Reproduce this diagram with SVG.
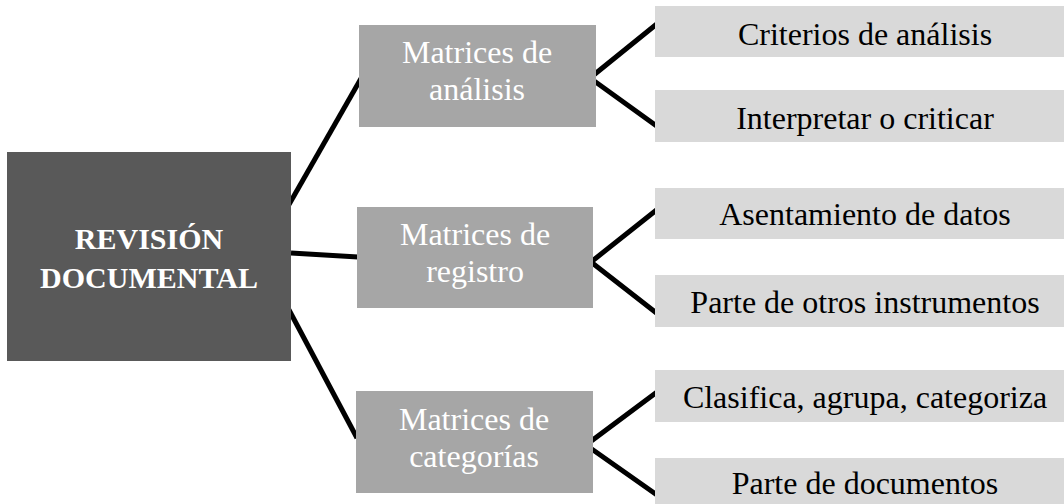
<svg xmlns="http://www.w3.org/2000/svg" width="1064" height="504" viewBox="0 0 1064 504">
<style>
.main{fill:#595959}
.mid{fill:#a6a6a6}
.leaf{fill:#d9d9d9}
.t{font-family:"Liberation Serif","Times New Roman",serif;font-size:32px;text-anchor:middle}
.tw{fill:#ffffff}
.tb{fill:#000000}
.tm{font-family:"Liberation Serif","Times New Roman",serif;font-size:30px;font-weight:bold;fill:#ffffff;text-anchor:middle}
.c{stroke:#000;stroke-width:5;fill:none;stroke-linecap:butt;stroke-linejoin:miter}
</style>
<rect width="1064" height="504" fill="#ffffff"/>
<g id="connectors">
<line class="c" x1="287" y1="208" x2="363" y2="75"/>
<line class="c" x1="291" y1="253" x2="358" y2="257"/>
<line class="c" x1="288" y1="308" x2="357" y2="438"/>
<polyline class="c" points="658,23 590,78 658,127"/>
<polyline class="c" points="659,208 591,262 659,315"/>
<polyline class="c" points="657,392 586,445 657,495"/>
</g>
<g id="n-revision">
<rect class="main" x="7" y="152" width="284" height="209"/>
<text class="tm" x="149" y="249">REVISIÓN</text>
<text class="tm" x="149" y="288">DOCUMENTAL</text>
</g>
<g id="n-analisis">
<rect class="mid" x="359" y="25" width="237" height="102"/>
<text class="t tw" x="477" y="63">Matrices de</text>
<text class="t tw" x="477" y="100">análisis</text>
</g>
<g id="n-registro">
<rect class="mid" x="357" y="207" width="236" height="101"/>
<text class="t tw" x="475" y="245">Matrices de</text>
<text class="t tw" x="475" y="282">registro</text>
</g>
<g id="n-categorias">
<rect class="mid" x="356" y="391" width="237" height="102"/>
<text class="t tw" x="474" y="430">Matrices de</text>
<text class="t tw" x="474" y="467">categorías</text>
</g>
<g id="n-criterios">
<rect class="leaf" x="655" y="6" width="420" height="51"/>
<text class="t tb" x="865" y="45">Criterios de análisis</text>
</g>
<g id="n-interpretar">
<rect class="leaf" x="655" y="90" width="420" height="52"/>
<text class="t tb" x="865" y="129">Interpretar o criticar</text>
</g>
<g id="n-asentamiento">
<rect class="leaf" x="655" y="188" width="420" height="51"/>
<text class="t tb" x="865" y="225">Asentamiento de datos</text>
</g>
<g id="n-otros">
<rect class="leaf" x="655" y="275" width="420" height="52"/>
<text class="t tb" x="865" y="313">Parte de otros instrumentos</text>
</g>
<g id="n-clasifica">
<rect class="leaf" x="655" y="370" width="420" height="52"/>
<text class="t tb" x="865" y="408">Clasifica, agrupa, categoriza</text>
</g>
<g id="n-documentos">
<rect class="leaf" x="655" y="458" width="420" height="52"/>
<text class="t tb" x="865" y="494">Parte de documentos</text>
</g>
</svg>
